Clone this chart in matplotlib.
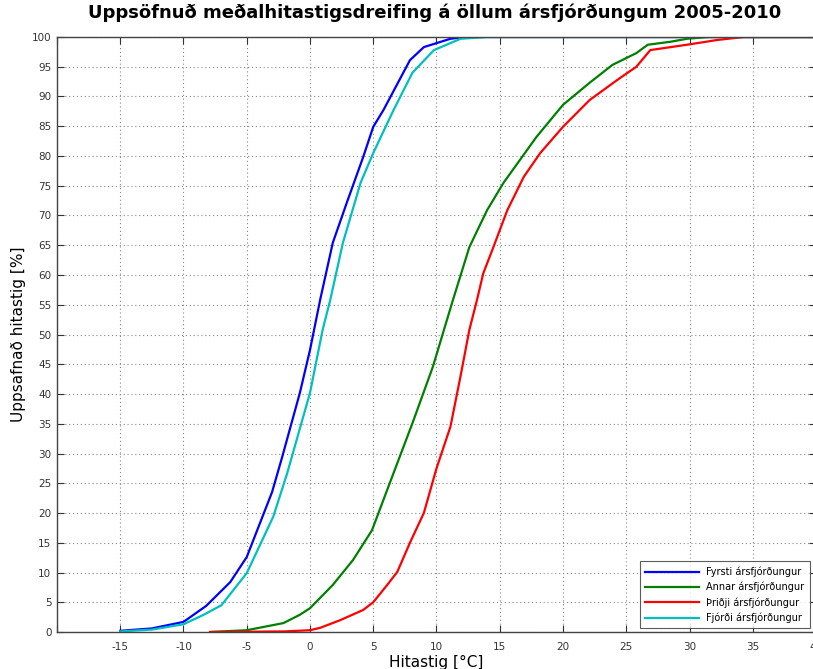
import numpy as np
import matplotlib
matplotlib.use("Agg")
import matplotlib.pyplot as plt

# Uppsafnað hitastig per ársfjórðungur
x_q1 = [-15, -12.5, -10, -8.2, -6.3, -5, -3, -2.2, -0.8, 0, 0.8, 1.8, 2.9, 4.2, 5, 5.8, 7.9, 9, 11.1, 12.3, 40]
y_q1 = [0.2, 0.6, 1.7, 4.4, 8.4, 12.6, 23.5, 29.4, 40.2, 47.4, 55.8, 65.4, 72.1, 79.8, 84.9, 87.7, 96.1, 98.3, 99.7, 100, 100]

x_q2 = [-7.9, -5, -2.1, -0.8, 0, 1.8, 3.4, 4.9, 6.3, 8.1, 9.7, 11.3, 12.6, 14, 15.3, 17.9, 20, 22.1, 23.9, 25.8, 26.7, 28.5, 29.8, 31.5, 40]
y_q2 = [0, 0.3, 1.5, 2.9, 4, 7.9, 12.1, 17.1, 25, 35.1, 44.5, 55.8, 64.7, 70.9, 75.5, 83.2, 88.6, 92.3, 95.3, 97.3, 98.7, 99.2, 99.7, 100, 100]

x_q3 = [-7.9, -2, 0, 0.8, 2.4, 4.2, 5, 6.1, 6.9, 7.9, 9, 10, 11.1, 11.9, 12.6, 13.2, 13.7, 14.5, 15.6, 16.9, 18.2, 20, 22.1, 24.5, 25.8, 26.9, 29.8, 32.2, 34.3, 40]
y_q3 = [0, 0.1, 0.3, 0.7, 2, 3.7, 5, 7.9, 10.1, 15, 20, 27.5, 34.5, 43, 50.8, 55.8, 60.3, 64.7, 70.9, 76.5, 80.5, 84.9, 89.4, 93.1, 95, 97.8, 98.7, 99.5, 100, 100]

x_q4 = [-15, -12.5, -10, -8.5, -7, -5, -2.9, -1.8, 0, 1.0, 1.6, 2.6, 4, 5, 6.6, 8.1, 9.8, 11.9, 14, 40]
y_q4 = [0.1, 0.4, 1.3, 2.8, 4.5, 9.9, 19.4, 26.7, 40.2, 50.8, 55.8, 65.4, 75.5, 80.5, 87.7, 94, 97.8, 99.7, 100, 100]

labels = ["Fyrsti ársfjórðungur", "Annar ársfjórðungur",
          "Þriðji ársfjórðungur", "Fjórði ársfjórðungur"]
colors = ["#0000ff", "#008000", "#ff0000", "#00bfbf"]

fig = plt.figure(figsize=(8.13, 6.69), dpi=100)
ax = fig.add_axes([0.0701, 0.0553, 0.9336, 0.8894])

for xs, ys, lab, c in zip([x_q1, x_q2, x_q3, x_q4], [y_q1, y_q2, y_q3, y_q4], labels, colors):
    ax.plot(xs, ys, color=c, lw=1.6, label=lab)

ax.set_xlim(-20, 40)
ax.set_ylim(0, 100)
xt = np.arange(-20, 41, 5)
ax.set_xticks(xt)
ax.set_xticklabels(["" if v == -20 else str(v) for v in xt])
ax.set_yticks(np.arange(0, 101, 5))
ax.tick_params(direction="in", length=5, top=True, right=True, labelsize=7.5,
               colors="#333333")
ax.tick_params(axis="x", pad=7)
ax.tick_params(axis="y", pad=4)
ax.grid(True, linestyle=(0, (1, 2.5)), color="#888888", lw=0.8)
for s in ax.spines.values():
    s.set_color("#444444")
    s.set_linewidth(1.0)

ax.set_xlabel("Hitastig [°C]", fontsize=11, labelpad=2)
ax.set_ylabel("Uppsafnað hitastig [%]", fontsize=11, labelpad=4)
fig.suptitle("Uppsöfnuð meðalhitastigsdreifing á öllum ársfjórðungum 2005-2010",
             fontsize=13, fontweight="bold", x=0.535, y=0.995)

leg = ax.legend(loc="lower right", fontsize=7, frameon=True, fancybox=False,
                edgecolor="#333333", handlelength=5.5, borderpad=0.55,
                labelspacing=0.5, borderaxespad=0,
                bbox_to_anchor=(0.992, 0.006))
leg.get_frame().set_linewidth(0.8)

fig.savefig("out.png", dpi=100)
